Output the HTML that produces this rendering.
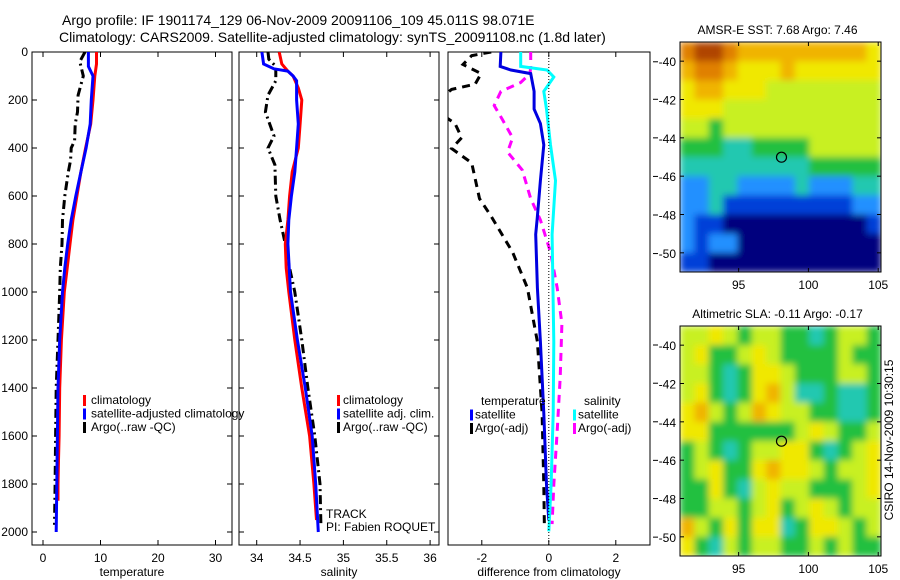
<!DOCTYPE html>
<html><head><meta charset="utf-8"><style>
html,body{margin:0;padding:0;background:#fff}
svg{display:block;font-family:"Liberation Sans",sans-serif}
</style></head><body>
<svg id="c" width="900" height="580" viewBox="0 0 900 580">
<defs><filter id="blur" x="-5%" y="-5%" width="110%" height="110%"><feGaussianBlur stdDeviation="3.5"/></filter></defs>
<text x="62" y="25" font-size="14">Argo profile: IF 1901174_129 06-Nov-2009 20091106_109 45.011S 98.071E</text>
<text x="59" y="42" font-size="14">Climatology: CARS2009. Satellite-adjusted climatology: synTS_20091108.nc (1.8d later)</text>
</svg>
<script>
// ---------- data ----------
const tDepth=[0,50,100,200,300,400,500,600,700,800,900,1000,1200,1400,1600,1700,1800,1870];
const tClim=[9.3,9.3,9.0,8.7,8.3,7.4,6.6,5.9,5.2,4.7,4.2,3.7,3.2,2.9,2.8,2.7,2.6,2.6];
const tSatDepth=[0,60,100,200,300,400,500,600,700,800,900,1000,1200,1400,1600,1800,2000];
const tSat=[7.9,7.9,8.7,8.4,8.2,7.5,6.6,5.7,4.9,4.3,3.8,3.4,2.9,2.6,2.5,2.4,2.3];
const tArgoDepth=[0,40,100,180,250,300,370,400,450,500,600,700,800,900,1000,1200,1400,1600,1800,1970];
const tArgo=[7.3,6.4,7.0,6.1,6.0,5.6,5.5,4.9,4.8,4.4,3.8,3.4,3.3,3.0,2.9,2.6,2.3,2.2,2.1,2.0];
const sClimDepth=[0,50,80,100,150,200,300,400,500,600,700,800,900,1000,1200,1400,1600,1800,1950];
const sClim=[34.26,34.29,34.36,34.42,34.48,34.52,34.50,34.48,34.41,34.38,34.36,34.33,34.34,34.37,34.44,34.52,34.61,34.66,34.69];
const sSatDepth=[0,50,70,80,100,120,200,300,400,500,600,700,800,1000,1200,1400,1600,1800,2000];
const sSat=[34.06,34.08,34.2,34.36,34.42,34.46,34.46,34.48,34.46,34.44,34.40,34.37,34.36,34.39,34.47,34.56,34.64,34.68,34.71];
const sArgoDepth=[0,30,60,120,180,250,350,400,470,600,700,800,900,1000,1200,1400,1600,1800,1970];
const sArgo=[34.13,34.14,34.22,34.22,34.13,34.10,34.20,34.13,34.21,34.22,34.27,34.33,34.38,34.44,34.52,34.59,34.67,34.73,34.74];
const dTSatDepth=[0,60,75,90,164,238,298,387,536,685,760,983,1207,1505,1803,1952];
const dTSat=[-1.43,-1.45,-1.13,-0.54,-0.44,-0.44,-0.25,-0.15,-0.25,-0.34,-0.39,-0.34,-0.25,-0.15,-0.07,0];
const dTArgoDepth=[0,15,52,90,134,156,200,250,298,357,402,462,611,685,834,983,1207,1505,1803,1982];
const dTArgo=[-1.72,-2.3,-2.56,-2.02,-2.2,-2.9,-3.3,-3.3,-2.8,-2.6,-2.9,-2.3,-2.07,-1.72,-1.08,-0.64,-0.34,-0.2,-0.15,-0.13];
const dSSatDepth=[0,60,75,104,164,238,387,536,760,1207,1505,1803,1997];
const dSSat=[-0.84,-0.84,-0.05,0.15,-0.15,-0.07,0.05,0.2,0.1,0.15,0.13,0.07,0];
const dSArgoDepth=[0,60,90,127,164,223,283,357,417,492,611,700,834,983,1132,1356,1579,1803,1967];
const dSArgo=[-0.54,-0.54,-0.56,-0.84,-1.43,-1.63,-1.38,-1.08,-1.23,-0.79,-0.54,-0.25,0.05,0.25,0.39,0.34,0.25,0.15,0.1];
const depthTicks=[0,200,400,600,800,1000,1200,1400,1600,1800,2000];
const tTicks=[0,10,20,30];
const sTicks=[34,34.5,35,35.5,36];
const dTicks=[-2,0,2];
const lonTicks=[95,100,105];
const latTicks=[-40,-42,-44,-46,-48,-50];
const sstGrid=[
"89987777777776","78876667666666","67766655555555","66655555555555",
"55455555555555","44433444455555","33333333344444","22332222322233",
"22311111111122","21100000000001","21220000000000","11000000000000"];
const slaGrid=[
"55654554434554","56445654444544","55434665444554","56434675334334",
"67545765544334","66444444565445","45434556643456","45644676654556",
"44643565544456","44554564565455","75464663466545","64354554454544"];
const mapColors=["#00007e","#0040d8","#2090ff","#20c8b0","#20c040","#c8f020","#f0e800","#f0b400","#e08000","#b04400"];

// ---------- helpers ----------
const svg=document.getElementById('c');
const NS='http://www.w3.org/2000/svg';
function mk(tag,attrs,parent){const e=document.createElementNS(NS,tag);for(const k in attrs)e.setAttribute(k,attrs[k]);(parent||svg).appendChild(e);return e;}
const Y=d=>52+d*0.24;
const panels=[
 {x0:32,x1:232,X:v=>43+v*5.75,name:'temperature-panel',title:'temperature',ticks:tTicks,labels:true},
 {x0:239,x1:439,X:v=>256.7+(v-34)*86.7,name:'salinity-panel',title:'salinity',ticks:sTicks,labels:false},
 {x0:448,x1:650,X:v=>548.8+v*33.5,name:'difference-panel',title:'difference from climatology',ticks:dTicks,labels:false}
];
panels.forEach((p,i)=>{
 const g=mk('g',{});
 
 
 const cp=mk('clipPath',{id:'cp'+i},g);mk('rect',{x:p.x0,y:52,width:p.x1-p.x0,height:493},cp);
 mk('rect',{x:p.x0,y:52,width:p.x1-p.x0,height:493,fill:'none',stroke:'#000','stroke-width':1},g);
 p.ticks.forEach(t=>{const x=p.X(t);
  mk('line',{x1:x,y1:545,x2:x,y2:540,stroke:'#000'},g);mk('line',{x1:x,y1:52,x2:x,y2:57,stroke:'#000'},g);
  const tx=mk('text',{x:x,y:562,'font-size':12,'text-anchor':'middle'},g);tx.textContent=t;
  
  });
 const at=mk('text',{x:(p.x0+p.x1)/2,y:576,'font-size':12,'text-anchor':'middle'},g);at.textContent=p.title;
 
 
 if(i<2) depthTicks.forEach(d=>{const y=Y(d);
  mk('line',{x1:p.x0,y1:y,x2:p.x0+5,y2:y,stroke:'#000'},g);mk('line',{x1:p.x1,y1:y,x2:p.x1-5,y2:y,stroke:'#000'},g);
  if(p.labels){const tx=mk('text',{x:28,y:y+4,'font-size':12,'text-anchor':'end'},g);tx.textContent=d;
   
   }});
 p.g=g;
});
[117,222,330,438,546,654,910,1017,1125,1233,1340,1448].forEach(z=>{mk('line',{x1:653,y1:20+z/2.8,x2:658,y2:20+z/2.8,stroke:'#000'});});
mk('line',{x1:548.8,y1:52,x2:548.8,y2:545,stroke:'#000','stroke-dasharray':'1,2'});

function line(pi,depths,vals,color,dash,name){
 const p=panels[pi];
 const pts=depths.map((d,j)=>p.X(vals[j]).toFixed(1)+','+Y(d).toFixed(1)).join(' ');
 const e=mk('polyline',{points:pts,fill:'none',stroke:color,'stroke-width':3,'stroke-dasharray':dash||'none','clip-path':'url(#cp'+pi+')'},p.g);
 
 
}
const DD='9,4,2,4', DS='8,6';
line(0,tArgoDepth,tArgo,'#000',DD,'temp-argo-line');
line(0,tDepth,tClim,'#ff0000',null,'temp-climatology-line');
line(0,tSatDepth,tSat,'#0000ff',null,'temp-satellite-line');
line(1,sArgoDepth,sArgo,'#000',DD,'sal-argo-line');
line(1,sClimDepth,sClim,'#ff0000',null,'sal-climatology-line');
line(1,sSatDepth,sSat,'#0000ff',null,'sal-satellite-line');
line(2,dTArgoDepth,dTArgo,'#000',DS,'dtemp-argo-line');
line(2,dSArgoDepth,dSArgo,'#ff00ff',DS,'dsal-argo-line');
line(2,dTSatDepth,dTSat,'#0000e0',null,'dtemp-satellite-line');
line(2,dSSatDepth,dSSat,'#00ffff',null,'dsal-satellite-line');

function legend(x,y,items,name){
 const g=mk('g',{});
 
 
 items.forEach((it,j)=>{const yy=y+j*13.5;
  if(it[1])mk('rect',{x:x,y:yy-9,width:3,height:11,fill:it[1]},g);
  const t=mk('text',{x:x+it[2],y:yy,'font-size':12},g);t.textContent=it[0];});
}
legend(83,404,[['climatology','#ff0000',8],['satellite-adjusted climatology','#0000ff',8],['Argo(..raw -QC)','#000',8]],'temp-legend');
legend(337,404,[['climatology','#ff0000',6],['satellite adj. clim.','#0000ff',6],['Argo(..raw -QC)','#000',6]],'sal-legend');
legend(470,405,[['temperature',null,11],['satellite','#0000ff',5],['Argo(-adj)','#000',5]],'dtemp-legend');
legend(573,405,[['salinity',null,11],['satellite','#00ffff',5],['Argo(-adj)','#ff00ff',5]],'dsal-legend');
const tr=mk('text',{x:326,y:518,'font-size':12});tr.textContent='TRACK';


const pi=mk('text',{x:326,y:531,'font-size':12});pi.textContent='PI: Fabien ROQUET';



// ---------- maps ----------
function map(top,grid,title,name,blur,idx){
 const L=680,R=881,T=top,B=top+230;
 const lonX=v=>L+(v-90.8)*(R-L)/14.4, latY=v=>T+(-39-v)*(B-T)/12;
 const g=mk('g',{});
 
 
 const cp=mk('clipPath',{id:'mc'+idx},g);mk('rect',{x:L,y:T,width:R-L,height:B-T},cp);
 const cg=mk('g',{'clip-path':'url(#mc'+idx+')'},g);
 const ig=mk('g',blur?{filter:'url(#blur)'}:{},cg);
 const rows=grid.length,cols=grid[0].length,cw=(R-L)/cols,ch=(B-T)/rows;
 grid.forEach((r,ri)=>{for(let ci=0;ci<cols;ci++){
  const c=mk('rect',{x:L+ci*cw,y:T+ri*ch,width:cw+0.5,height:ch+0.5,fill:mapColors[+r[ci]]},ig);
  
  }});
 mk('rect',{x:L,y:T,width:R-L,height:B-T,fill:'none',stroke:'#000'},g);
 latTicks.forEach(v=>{const y=latY(v);mk('line',{x1:L,y1:y,x2:L+4,y2:y,stroke:'#000'},g);mk('line',{x1:R,y1:y,x2:R-4,y2:y,stroke:'#000'},g);
  const t=mk('text',{x:L-4,y:y+5,'font-size':12,'text-anchor':'end'},g);t.textContent=v;});
 lonTicks.forEach(v=>{const x=lonX(v);mk('line',{x1:x,y1:B,x2:x,y2:B-4,stroke:'#000'},g);mk('line',{x1:x,y1:T,x2:x,y2:T+4,stroke:'#000'},g);
  const t=mk('text',{x:x,y:B+17,'font-size':12,'text-anchor':'middle'},g);t.textContent=v;});
 const c=mk('ellipse',{cx:lonX(98.071),cy:latY(-45.011),rx:5,ry:5,fill:'none',stroke:'#000','stroke-width':1.2},g);
 
 
 const t=mk('text',{x:(L+R)/2-3,y:T-8,'font-size':12,'text-anchor':'middle'},g);t.textContent=title;
}
map(42,sstGrid,'AMSR-E SST: 7.68 Argo: 7.46','sst-map',true,0);
map(326,slaGrid,'Altimetric SLA: -0.11 Argo: -0.17','sla-map',true,1);
const cs=mk('text',{x:0,y:0,'font-size':12,'text-anchor':'middle',transform:'translate(893,440) rotate(-90)'});cs.textContent='CSIRO 14-Nov-2009 10:30:15';


</script>
</body></html>
